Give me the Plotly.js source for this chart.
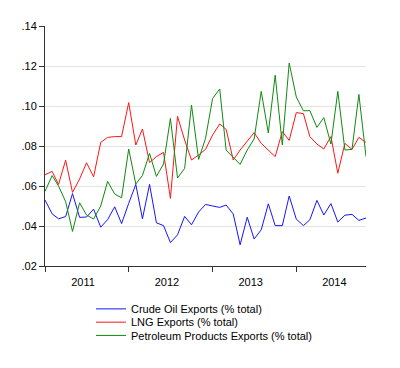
<!DOCTYPE html>
<html>
<head>
<meta charset="utf-8">
<script src="https://cdn.plot.ly/plotly-3.0.1.min.js"></script>
<style>html,body{margin:0;padding:0;background:#fff;}#chart{width:400px;height:368px;}</style>
</head>
<body>
<div id="chart"></div>
<script>
// Monthly observations, Jan 2011 .. Nov 2014
const months = [];
for (let y = 2011; y <= 2014; y++) {
  for (let m = 1; m <= 12; m++) {
    if (y === 2014 && m > 11) break;
    months.push(y + '-' + String(m).padStart(2, '0') + '-01');
  }
}

const crude = [0.0530,0.0461,0.0436,0.0447,0.0562,0.0443,0.0445,0.0484,0.0394,0.0432,0.0496,0.0412,
               0.0513,0.0608,0.0436,0.0608,0.0416,0.0402,0.0317,0.0356,0.0448,0.0406,0.0470,0.0508,
               0.0500,0.0493,0.0505,0.0460,0.0306,0.0444,0.0335,0.0381,0.0511,0.0402,0.0402,0.0550,
               0.0434,0.0402,0.0431,0.0528,0.0455,0.0512,0.0420,0.0454,0.0458,0.0428,0.0440];
const lng = [0.0656,0.0673,0.0608,0.0729,0.0568,0.0635,0.0716,0.0646,0.0818,0.0843,0.0847,0.0847,
             0.1017,0.0805,0.0885,0.0717,0.0747,0.0768,0.0538,0.0948,0.0830,0.0730,0.0755,0.0783,
             0.0855,0.0910,0.0883,0.0730,0.0780,0.0822,0.0867,0.0813,0.0778,0.0747,0.0872,0.0828,
             0.0967,0.0962,0.0847,0.0810,0.0785,0.0847,0.0664,0.0813,0.0783,0.0843,0.0818];
const petro = [0.0573,0.0652,0.0600,0.0522,0.0373,0.0516,0.0455,0.0435,0.0500,0.0623,0.0560,0.0541,
               0.0785,0.0610,0.0653,0.0763,0.0648,0.0710,0.0938,0.0640,0.0688,0.1005,0.0733,0.0838,
               0.1038,0.1085,0.0780,0.0743,0.0708,0.0780,0.0835,0.1073,0.0865,0.1154,0.0805,0.1215,
               0.1045,0.0976,0.0977,0.0893,0.0942,0.0810,0.1073,0.0780,0.0783,0.1058,0.0747];

const seriesNames = ['Crude Oil Exports (% total)', 'LNG Exports (% total)', 'Petroleum Products Exports (% total)'];

const yTickVals = [0.02, 0.04, 0.06, 0.08, 0.10, 0.12, 0.14];
const yTickText = ['.02', '.04', '.06', '.08', '.10', '.12', '.14'];
const yGridVals = [0.04, 0.06, 0.08, 0.10, 0.12];

const yearStarts = ['2011-01-01', '2012-01-01', '2013-01-01', '2014-01-01'];
const yearMids = ['2011-06-16', '2012-06-16', '2013-06-16', '2014-06-16'];
const yearLabels = ['2011', '2012', '2013', '2014'];

const font = 'Liberation Sans, Arial, sans-serif';

const traces = [
  {x: months, y: crude, name: seriesNames[0], type: 'scatter', mode: 'lines',
   line: {color: '#1515ff', width: 1}, legend: 'legend'},
  {x: months, y: lng, name: seriesNames[1], type: 'scatter', mode: 'lines',
   line: {color: '#ff1515', width: 1}, legend: 'legend2'},
  {x: months, y: petro, name: seriesNames[2], type: 'scatter', mode: 'lines',
   line: {color: '#108a10', width: 1}, legend: 'legend3'}
];

const legendBase = {
  x: 0.1433, xanchor: 'left', yanchor: 'middle',
  bgcolor: 'rgba(0,0,0,0)', borderwidth: 0,
  font: {family: font, size: 11, color: '#000'}
};

const layout = {
  width: 400, height: 368,
  margin: {l: 45, r: 34, t: 26, b: 102},
  paper_bgcolor: '#fff', plot_bgcolor: '#fff',
  font: {family: font, size: 11, color: '#000'},
  showlegend: true,
  xaxis: {
    type: 'date',
    range: [months[0], months[months.length - 1]],
    tickmode: 'array', tickvals: yearMids, ticktext: yearLabels,
    ticks: '', ticklabelstandoff: 6, showgrid: false, zeroline: false,
    showline: true, linecolor: '#333', linewidth: 1,
    tickfont: {family: font, size: 11, color: '#000'},
    minor: {tickmode: 'array', tickvals: yearStarts, ticks: 'outside', ticklen: 5, tickcolor: '#333', tickwidth: 1, showgrid: false}
  },
  yaxis: {
    range: [0.02, 0.14],
    tickmode: 'array', tickvals: yTickVals, ticktext: yTickText,
    ticks: 'outside', ticklen: 5, tickcolor: '#333',
    showgrid: false, zeroline: false,
    showline: true, linecolor: '#333', linewidth: 1,
    tickfont: {family: font, size: 11, color: '#000'}
  },
  yaxis2: {
    overlaying: 'y', matches: 'y', range: [0.02, 0.14],
    tickmode: 'array', tickvals: yGridVals,
    showticklabels: false, ticks: '', showline: false, zeroline: false,
    showgrid: true, gridcolor: '#e3e3e3', gridwidth: 1
  },
  legend: Object.assign({}, legendBase, {y: -0.1787}),
  legend2: Object.assign({}, legendBase, {y: -0.2340}),
  legend3: Object.assign({}, legendBase, {y: -0.2893})
};

// invisible helper trace so the grid-only axis (yaxis2) exists
traces.unshift({x: [months[0]], y: [null], yaxis: 'y2', type: 'scatter', mode: 'lines',
  showlegend: false, hoverinfo: 'skip'});

Plotly.newPlot('chart', traces, layout, {displayModeBar: false, staticPlot: true});
</script>
</body>
</html>
